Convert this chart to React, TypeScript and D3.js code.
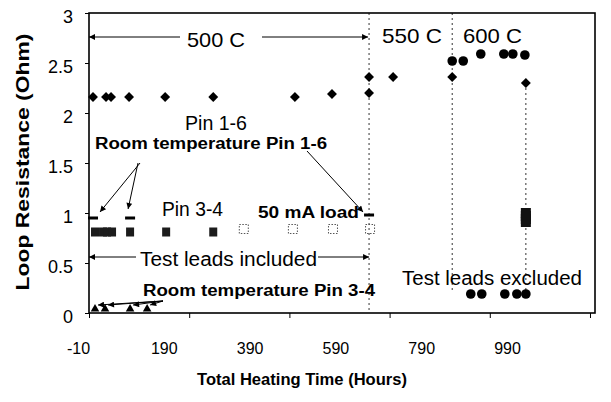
import React, { useEffect, useRef } from "react";
import * as d3 from "d3";

// Pin 1-6 heated (diamonds)
const pin16Hours = [-2, 24, 34, 70, 142, 238, 401, 475, 549, 549, 597, 715, 862];
const pin16Ohm = [2.16, 2.16, 2.16, 2.16, 2.16, 2.16, 2.16, 2.19, 2.2, 2.36, 2.36, 2.36, 2.3];
// Pin 1-6 at 600 C (circles)
const pin16HotHours = [715, 737, 772, 818, 836, 860];
const pin16HotOhm = [2.52, 2.52, 2.59, 2.59, 2.59, 2.58];
// Pin 3-4 (filled squares)
const pin34Hours = [2, 18, 26, 36, 72, 144, 238];
const pin34Ohm = [0.81, 0.81, 0.81, 0.81, 0.81, 0.81, 0.81];
// Pin 3-4 with 50 mA load (open squares)
const pin34LoadHours = [299, 397, 477, 551];
const pin34LoadOhm = [0.84, 0.84, 0.84, 0.84];
// Pin 3-4 at 600 C (stacked squares)
const pin34HotHours = [862, 862, 862, 862];
const pin34HotOhm = [1.0, 0.97, 0.94, 0.91];
// Room temperature Pin 1-6 (dashes)
const room16Hours = [-2, 72, 549];
const room16Ohm = [0.95, 0.95, 0.98];
// Room temperature Pin 3-4 (triangles)
const room34Hours = [2, 22, 72, 106];
const room34Ohm = [0.04, 0.04, 0.04, 0.04];
// Test leads excluded (circles)
const excludedHours = [752, 774, 820, 844, 862];
const excludedOhm = [0.19, 0.19, 0.19, 0.19, 0.19];
// temperature steps (dotted verticals)
const stepHours = [549, 715, 862];
const stepTopOhm = [3, 3, 2.25];
const stepBottomOhm = [0, 0.23, 0.23];

const hourTicks = [-10, 190, 390, 590, 790, 990];
const ohmTicks = [0, 0.5, 1, 1.5, 2, 2.5, 3];

const FONT = "'Liberation Sans', Arial, sans-serif";

const zip = (hs: number[], vs: number[]) => hs.map((h, i) => [h, vs[i]] as [number, number]);

const App = () => {
  const ref = useRef<SVGSVGElement | null>(null);

  useEffect(() => {
    document.body.style.margin = "0";
    const svg = d3.select(ref.current);
    svg.selectAll("*").remove();

    const x = d3.scaleLinear().domain([-10, 1000]).range([89, 595]);
    const y = d3.scaleLinear().domain([0, 3]).range([313, 13]);
    // the scanned tick labels sit on a narrower span than the ticks
    const xLab = d3.scaleLinear().domain([-10, 990]).range([78, 507]);

    // arrowhead
    svg
      .append("defs")
      .append("marker")
      .attr("id", "arr")
      .attr("viewBox", "0 0 10 10")
      .attr("refX", 10)
      .attr("refY", 5)
      .attr("markerUnits", "userSpaceOnUse")
      .attr("markerWidth", 8)
      .attr("markerHeight", 6)
      .attr("orient", "auto")
      .append("path")
      .attr("d", "M0,0L10,5L0,10z")
      .attr("fill", "#000");

    const text = (
      s: string,
      tx: number,
      ty: number,
      size: number,
      len: number,
      bold = false
    ) =>
      svg
        .append("text")
        .attr("x", tx)
        .attr("y", ty)
        .attr("font-family", FONT)
        .attr("font-size", size)
        .attr("font-weight", bold ? "bold" : "normal")
        .attr("textLength", len)
        .attr("lengthAdjust", "spacingAndGlyphs")
        .attr("fill", "#000")
        .text(s);

    const arrow = (x1: number, y1: number, x2: number, y2: number, head = true) =>
      svg
        .append("line")
        .attr("x1", x1)
        .attr("y1", y1)
        .attr("x2", x2)
        .attr("y2", y2)
        .attr("stroke", "#000")
        .attr("stroke-width", 1)
        .attr("marker-end", head ? "url(#arr)" : null);

    // dotted verticals at temperature changes
    svg
      .selectAll("line.step")
      .data(stepHours)
      .enter()
      .append("line")
      .attr("x1", (d) => x(d))
      .attr("x2", (d) => x(d))
      .attr("y1", (_, i) => y(stepTopOhm[i]))
      .attr("y2", (_, i) => y(stepBottomOhm[i]))
      .attr("stroke", "#333")
      .attr("stroke-width", 1)
      .attr("stroke-dasharray", "2,3");

    // frame
    svg
      .append("rect")
      .attr("x", x(-10))
      .attr("y", y(3))
      .attr("width", x(1000) - x(-10))
      .attr("height", y(0) - y(3))
      .attr("fill", "none")
      .attr("stroke", "#000")
      .attr("stroke-width", 1.6);

    // x ticks
    const gx = svg
      .append("g")
      .attr("transform", `translate(0,${y(0)})`)
      .call(d3.axisBottom(x).tickValues(hourTicks).tickSize(5).tickFormat(() => ""));
    gx.select(".domain").remove();

    // x labels
    const gxl = svg
      .append("g")
      .attr("transform", "translate(0,343)")
      .call(
        d3
          .axisBottom(xLab)
          .tickValues(hourTicks)
          .tickSize(0)
          .tickPadding(0)
          .tickFormat((d) => String(d))
      );
    gxl.select(".domain").remove();
    gxl.attr("font-family", FONT).attr("font-size", 16);

    // y axis
    const gy = svg
      .append("g")
      .attr("transform", `translate(${x(-10)},0)`)
      .call(d3.axisLeft(y).tickValues(ohmTicks).tickSize(4).tickPadding(12).tickFormat((d) => String(d)));
    gy.select(".domain").remove();
    gy.attr("font-family", FONT).attr("font-size", 18);
    gy.selectAll("text").attr("transform", "translate(0,4)");

    // axis titles
    svg
      .append("text")
      .attr("transform", "translate(29,162) rotate(-90)")
      .attr("text-anchor", "middle")
      .attr("font-family", FONT)
      .attr("font-size", 19)
      .attr("font-weight", "bold")
      .attr("textLength", 257)
      .attr("lengthAdjust", "spacingAndGlyphs")
      .text("Loop Resistance (Ohm)");
    text("Total Heating Time (Hours)", 197, 385, 17, 210, true);

    // annotations
    const yTop = y(2.76);
    arrow(180, yTop, x(-10), yTop);
    arrow(262, yTop, x(547), yTop);
    text("500 C", 187, 47, 21, 58);
    text("550 C", 382, 43, 21, 60);
    text("600 C", 463, 43, 21, 59);
    text("Pin 1-6", 185, 130, 20, 62);
    text("Room temperature Pin 1-6", 95, 149, 16, 232, true);
    arrow(140, 163, x(-2) + 7, y(room16Ohm[0]) - 6);
    arrow(138, 163, x(72) - 2, y(room16Ohm[1]) - 9);
    arrow(307, 151, x(549) - 6, y(room16Ohm[2]) - 3);
    text("Pin 3-4", 162, 216, 20, 61);
    text("50 mA load", 258, 218, 16, 101, true);
    const yLead = y(0.56);
    arrow(136, yLead, x(-10), yLead);
    arrow(318, yLead, x(549), yLead);
    text("Test leads included", 140, 266, 20, 177);
    text("Room temperature Pin 3-4", 143, 296, 16, 232, true);
    room34Hours.forEach((h, i) => arrow(163, 301, x(h) + 3, y(room34Ohm[i]) - 4));
    text("Test leads excluded", 402, 285, 20, 180);

    // diamonds
    svg
      .selectAll("rect.dia")
      .data(zip(pin16Hours, pin16Ohm))
      .enter()
      .append("rect")
      .attr("width", 7)
      .attr("height", 7)
      .attr("x", -3.5)
      .attr("y", -3.5)
      .attr("transform", (d) => `translate(${x(d[0])},${y(d[1])}) rotate(45)`)
      .attr("fill", "#000");

    // circles
    svg
      .selectAll("circle.hot")
      .data(zip(pin16HotHours, pin16HotOhm).concat(zip(excludedHours, excludedOhm)))
      .enter()
      .append("circle")
      .attr("cx", (d) => x(d[0]))
      .attr("cy", (d) => y(d[1]))
      .attr("r", 4.8)
      .attr("fill", "#000");

    // filled squares
    svg
      .selectAll("rect.sq")
      .data(zip(pin34Hours, pin34Ohm))
      .enter()
      .append("rect")
      .attr("x", (d) => x(d[0]) - 4)
      .attr("y", (d) => y(d[1]) - 4.5)
      .attr("width", 8)
      .attr("height", 9)
      .attr("fill", "#1c1c1c");
    svg
      .selectAll("rect.sqhot")
      .data(zip(pin34HotHours, pin34HotOhm))
      .enter()
      .append("rect")
      .attr("x", (d) => x(d[0]) - 5)
      .attr("y", (d) => y(d[1]) - 5)
      .attr("width", 10)
      .attr("height", 10)
      .attr("fill", "#111");

    // open squares (50 mA load)
    svg
      .selectAll("rect.open")
      .data(zip(pin34LoadHours, pin34LoadOhm))
      .enter()
      .append("rect")
      .attr("x", (d) => x(d[0]) - 4.5)
      .attr("y", (d) => y(d[1]) - 4.5)
      .attr("width", 9)
      .attr("height", 9)
      .attr("fill", "none")
      .attr("stroke", "#555")
      .attr("stroke-width", 1)
      .attr("stroke-dasharray", "1.5,1.5");

    // dashes
    svg
      .selectAll("rect.dash")
      .data(zip(room16Hours, room16Ohm))
      .enter()
      .append("rect")
      .attr("x", (d) => x(d[0]) - 5)
      .attr("y", (d) => y(d[1]) - 1.5)
      .attr("width", 10)
      .attr("height", 3)
      .attr("fill", "#000");

    // triangles
    const tri = d3.symbol().type(d3.symbolTriangle).size(32);
    svg
      .selectAll("path.tri")
      .data(zip(room34Hours, room34Ohm))
      .enter()
      .append("path")
      .attr("d", tri)
      .attr("transform", (d) => `translate(${x(d[0])},${y(d[1])})`)
      .attr("fill", "#000");
  }, []);

  return (
    <div style={{ width: 611, height: 402, background: "#fff" }}>
      <svg ref={ref} width={611} height={402} style={{ display: "block" }} />
    </div>
  );
};

export default App;
